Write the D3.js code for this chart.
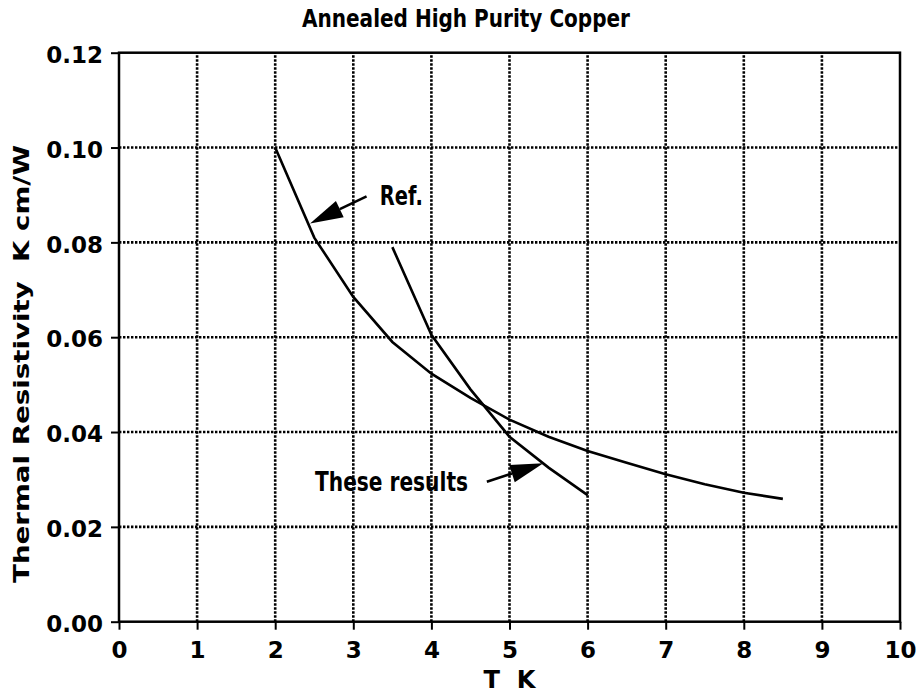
<!DOCTYPE html>
<html>
<head>
<meta charset="utf-8" />
<title>Annealed High Purity Copper</title>
<script src="https://d3js.org/d3.v7.min.js"></script>
<style>
  body { margin: 0; background: #fff; }
  text { font-family: "DejaVu Sans", sans-serif; font-weight: bold; fill: #000; white-space: pre; }
</style>
</head>
<body>
<div id="chart"></div>
<script>
// data
const refT = [2, 2.5, 3, 3.5, 4, 4.5, 5, 5.5, 6, 6.5, 7, 7.5, 8, 8.5];
const refR = [0.100, 0.081, 0.0685, 0.059, 0.0523, 0.0472, 0.0426, 0.039, 0.036, 0.0335, 0.0311, 0.029, 0.0272, 0.0259];
const resT = [3.5, 4, 4.5, 5, 5.5, 6];
const resR = [0.079, 0.0605, 0.049, 0.039, 0.0325, 0.0267];
const xTicks = [0, 1, 2, 3, 4, 5, 6, 7, 8, 9, 10];
const yTicks = [0, 0.02, 0.04, 0.06, 0.08, 0.10, 0.12];

// annotations (data coords): label, label pos, arrow tail, arrow tip
const notes = [
  { label: 'Ref.', lx: 3.34, ly: 0.0879, len: 43, tail: [3.17, 0.0897], tip: [2.446, 0.0840] },
  { label: 'These results', lx: 2.51, ly: 0.0276, len: 153, tail: [4.71, 0.0295], tip: [5.433, 0.0334] }
];

const width = 917, height = 693;
const margin = { top: 52.7, right: 17, bottom: 71.3, left: 119 };

const svg = d3.select('#chart').append('svg')
  .attr('width', width)
  .attr('height', height);

const x = d3.scaleLinear().domain([0, 10]).range([margin.left, width - margin.right]);
const y = d3.scaleLinear().domain([0, 0.12]).range([height - margin.bottom, margin.top]);

// dotted grid
svg.append('g')
  .selectAll('line')
  .data(xTicks.slice(1, -1))
  .join('line')
  .attr('x1', d => x(d)).attr('x2', d => x(d))
  .attr('y1', y(0)).attr('y2', y(0.12))
  .attr('stroke', '#000').attr('stroke-width', 2.6)
  .attr('stroke-dasharray', '2.4,1.6');

svg.append('g')
  .selectAll('line')
  .data(yTicks.slice(1, -1))
  .join('line')
  .attr('x1', x(0)).attr('x2', x(10))
  .attr('y1', d => y(d)).attr('y2', d => y(d))
  .attr('stroke', '#000').attr('stroke-width', 2.6)
  .attr('stroke-dasharray', '2.4,1.6');

// frame
svg.append('rect')
  .attr('x', x(0)).attr('y', y(0.12))
  .attr('width', x(10) - x(0)).attr('height', y(0) - y(0.12))
  .attr('fill', 'none').attr('stroke', '#000').attr('stroke-width', 2.5);

// axes
const xAxis = svg.append('g')
  .attr('transform', `translate(0,${y(0)})`)
  .call(d3.axisBottom(x).tickValues(xTicks).tickFormat(d3.format('d')).tickSize(8).tickPadding(12));

const yAxis = svg.append('g')
  .attr('transform', `translate(${x(0)},0)`)
  .call(d3.axisLeft(y).tickValues(yTicks).tickFormat(d3.format('.2f')).tickSize(8).tickPadding(8));

[xAxis, yAxis].forEach(g => {
  g.select('.domain').remove();
  g.selectAll('line').attr('stroke', '#000').attr('stroke-width', 2);
  g.selectAll('text')
    .attr('fill', '#000')
    .style('font-family', '"DejaVu Sans", sans-serif')
    .style('font-weight', 'bold')
    .style('font-size', '23px');
});
yAxis.selectAll('text').attr('dy', '0.42em');

// curves
const line = d3.line().x(d => x(d[0])).y(d => y(d[1]));

svg.append('path')
  .datum(d3.zip(refT, refR))
  .attr('d', line)
  .attr('fill', 'none').attr('stroke', '#000').attr('stroke-width', 2.6);

svg.append('path')
  .datum(d3.zip(resT, resR))
  .attr('d', line)
  .attr('fill', 'none').attr('stroke', '#000').attr('stroke-width', 2.6);

// arrows and labels
notes.forEach(n => {
  const tx = x(n.tip[0]), ty = y(n.tip[1]);
  const sx = x(n.tail[0]), sy = y(n.tail[1]);
  const dx = sx - tx, dy = sy - ty, L = Math.hypot(dx, dy);
  const ux = dx / L, uy = dy / L;
  const hl = 33, hw = 9;
  const bx = tx + ux * hl, by = ty + uy * hl;

  svg.append('line')
    .attr('x1', sx).attr('y1', sy)
    .attr('x2', bx).attr('y2', by)
    .attr('stroke', '#000').attr('stroke-width', 2.6);

  svg.append('polygon')
    .attr('points', [[tx, ty], [bx - uy * hw, by + ux * hw], [bx + uy * hw, by - ux * hw]].map(p => p.join(',')).join(' '))
    .attr('fill', '#000');

  svg.append('text')
    .attr('x', x(n.lx)).attr('y', y(n.ly))
    .attr('textLength', n.len).attr('lengthAdjust', 'spacingAndGlyphs')
    .style('font-size', '27px')
    .text(n.label);
});

// title and axis labels
svg.append('text')
  .attr('x', 302).attr('y', 27)
  .attr('textLength', 328).attr('lengthAdjust', 'spacingAndGlyphs')
  .style('font-size', '24px')
  .text('Annealed High Purity Copper');

svg.append('text')
  .attr('x', x(5)).attr('y', 688)
  .attr('text-anchor', 'middle')
  .attr('textLength', 52).attr('lengthAdjust', 'spacingAndGlyphs')
  .style('font-size', '25px')
  .text('T  K');

svg.append('text')
  .attr('transform', 'translate(29,364) rotate(-90)')
  .attr('text-anchor', 'middle')
  .attr('textLength', 438).attr('lengthAdjust', 'spacingAndGlyphs')
  .style('font-size', '21px')
  .text('Thermal Resistivity  K cm/W');
</script>
</body>
</html>
